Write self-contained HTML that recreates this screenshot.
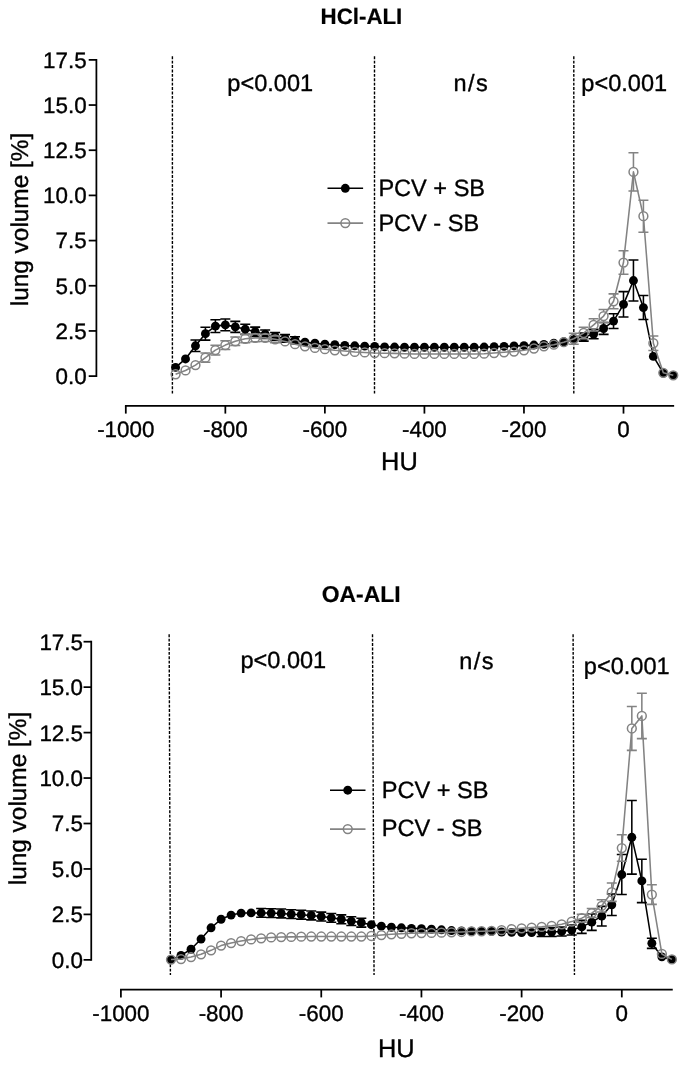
<!DOCTYPE html>
<html><head><meta charset="utf-8"><title>Lung volume</title>
<style>
html,body{margin:0;padding:0;background:#fff;}
body{width:685px;height:1065px;overflow:hidden;font-family:"Liberation Sans",sans-serif;}
svg{display:block;will-change:transform;filter:grayscale(1);}
text{text-rendering:geometricPrecision;stroke:#000;stroke-width:0.35px;stroke-linejoin:round;}
text.b{stroke-width:0.2px;}
</style></head><body>
<svg width="685" height="1065" viewBox="0 0 685 1065">
<rect width="685" height="1065" fill="#fff"/>
<g id="top">
<line x1="172.40" y1="56.30" x2="172.40" y2="394.90" stroke="#000" stroke-width="1.4" stroke-dasharray="2.9 1.5"/>
<line x1="374.50" y1="56.30" x2="374.50" y2="394.90" stroke="#000" stroke-width="1.4" stroke-dasharray="2.9 1.5"/>
<line x1="573.80" y1="56.30" x2="573.80" y2="394.90" stroke="#000" stroke-width="1.4" stroke-dasharray="2.9 1.5"/>
<path d="M96.40 59.00V376.98" stroke="#000" stroke-width="1.75" fill="none"/>
<line x1="88.70" y1="376.10" x2="96.40" y2="376.10" stroke="#000" stroke-width="1.75"/>
<text x="86.60" y="384.00" text-anchor="end" font-family="Liberation Sans, sans-serif" font-size="22.4">0.0</text>
<line x1="88.70" y1="330.93" x2="96.40" y2="330.93" stroke="#000" stroke-width="1.75"/>
<text x="86.60" y="338.82" text-anchor="end" font-family="Liberation Sans, sans-serif" font-size="22.4">2.5</text>
<line x1="88.70" y1="285.75" x2="96.40" y2="285.75" stroke="#000" stroke-width="1.75"/>
<text x="86.60" y="293.65" text-anchor="end" font-family="Liberation Sans, sans-serif" font-size="22.4">5.0</text>
<line x1="88.70" y1="240.58" x2="96.40" y2="240.58" stroke="#000" stroke-width="1.75"/>
<text x="86.60" y="248.48" text-anchor="end" font-family="Liberation Sans, sans-serif" font-size="22.4">7.5</text>
<line x1="88.70" y1="195.40" x2="96.40" y2="195.40" stroke="#000" stroke-width="1.75"/>
<text x="86.60" y="203.30" text-anchor="end" font-family="Liberation Sans, sans-serif" font-size="22.4">10.0</text>
<line x1="88.70" y1="150.23" x2="96.40" y2="150.23" stroke="#000" stroke-width="1.75"/>
<text x="86.60" y="158.13" text-anchor="end" font-family="Liberation Sans, sans-serif" font-size="22.4">12.5</text>
<line x1="88.70" y1="105.05" x2="96.40" y2="105.05" stroke="#000" stroke-width="1.75"/>
<text x="86.60" y="112.95" text-anchor="end" font-family="Liberation Sans, sans-serif" font-size="22.4">15.0</text>
<line x1="88.70" y1="59.88" x2="96.40" y2="59.88" stroke="#000" stroke-width="1.75"/>
<text x="86.60" y="67.78" text-anchor="end" font-family="Liberation Sans, sans-serif" font-size="22.4">17.5</text>
<path d="M124.93 405.90H674.14" stroke="#000" stroke-width="1.75" fill="none"/>
<line x1="125.80" y1="405.90" x2="125.80" y2="413.60" stroke="#000" stroke-width="1.75"/>
<text x="125.80" y="437.10" text-anchor="middle" font-family="Liberation Sans, sans-serif" font-size="22.4">-1000</text>
<line x1="225.34" y1="405.90" x2="225.34" y2="413.60" stroke="#000" stroke-width="1.75"/>
<text x="225.34" y="437.10" text-anchor="middle" font-family="Liberation Sans, sans-serif" font-size="22.4">-800</text>
<line x1="324.88" y1="405.90" x2="324.88" y2="413.60" stroke="#000" stroke-width="1.75"/>
<text x="324.88" y="437.10" text-anchor="middle" font-family="Liberation Sans, sans-serif" font-size="22.4">-600</text>
<line x1="424.42" y1="405.90" x2="424.42" y2="413.60" stroke="#000" stroke-width="1.75"/>
<text x="424.42" y="437.10" text-anchor="middle" font-family="Liberation Sans, sans-serif" font-size="22.4">-400</text>
<line x1="523.96" y1="405.90" x2="523.96" y2="413.60" stroke="#000" stroke-width="1.75"/>
<text x="523.96" y="437.10" text-anchor="middle" font-family="Liberation Sans, sans-serif" font-size="22.4">-200</text>
<line x1="623.50" y1="405.90" x2="623.50" y2="413.60" stroke="#000" stroke-width="1.75"/>
<text x="623.50" y="437.10" text-anchor="middle" font-family="Liberation Sans, sans-serif" font-size="22.4">0</text>
<path d="M195.48 339.99V351.59M190.48 339.99H200.48M190.48 351.59H200.48M205.43 327.31V340.11M200.43 327.31H210.43M200.43 340.11H210.43M215.39 319.75V332.54M210.39 319.75H220.39M210.39 332.54H220.39M225.34 318.98V330.78M220.34 318.98H230.34M220.34 330.78H230.34M235.29 321.37V332.37M230.29 321.37H240.29M230.29 332.37H240.29M245.25 324.21V334.21M240.25 324.21H250.25M240.25 334.21H250.25M255.20 327.13V336.33M250.20 327.13H260.20M250.20 336.33H260.20M265.16 330.05V338.45M260.16 330.05H270.16M260.16 338.45H270.16M275.11 332.42V340.42M270.11 332.42H280.11M270.11 340.42H280.11M285.06 334.60V342.20M280.06 334.60H290.06M280.06 342.20H290.06M295.02 336.70V343.70M290.02 336.70H300.02M290.02 343.70H300.02M583.68 333.14V341.14M578.68 333.14H588.68M578.68 341.14H588.68M593.64 329.37V338.77M588.64 329.37H598.64M588.64 338.77H598.64M603.59 322.59V334.39M598.59 322.59H608.59M598.59 334.39H608.59M613.55 313.70V328.50M608.55 313.70H618.55M608.55 328.50H618.55M623.50 291.64V317.04M618.50 291.64H628.50M618.50 317.04H628.50M633.45 260.05V301.05M628.45 260.05H638.45M628.45 301.05H638.45M643.41 295.58V319.58M638.41 295.58H648.41M638.41 319.58H648.41" stroke="#000" stroke-width="1.55" fill="none"/>
<polyline points="175.57,367.41 185.52,358.94 195.48,345.79 205.43,333.71 215.39,326.14 225.34,324.88 235.29,326.87 245.25,329.21 255.20,331.73 265.16,334.25 275.11,336.42 285.06,338.40 295.02,340.20 304.97,342.18 314.93,343.26 324.88,344.16 334.83,344.71 344.79,345.43 354.74,345.79 364.70,346.15 374.65,346.33 384.60,346.87 394.56,347.05 404.51,347.23 414.47,347.23 424.42,347.23 434.37,347.23 444.33,347.23 454.28,347.23 464.24,347.23 474.19,347.23 484.14,347.05 494.10,346.69 504.05,346.33 514.01,345.97 523.96,345.61 533.91,345.07 543.87,344.35 553.82,343.26 563.78,341.82 573.73,339.66 583.68,337.14 593.64,334.07 603.59,328.49 613.55,321.10 623.50,304.34 633.45,280.55 643.41,307.58 653.36,356.42 663.32,373.00 673.27,375.34" stroke="#000" stroke-width="1.55" fill="none" stroke-linejoin="round"/>
<circle cx="175.57" cy="367.41" r="4.45" fill="#000"/>
<circle cx="185.52" cy="358.94" r="4.45" fill="#000"/>
<circle cx="195.48" cy="345.79" r="4.45" fill="#000"/>
<circle cx="205.43" cy="333.71" r="4.45" fill="#000"/>
<circle cx="215.39" cy="326.14" r="4.45" fill="#000"/>
<circle cx="225.34" cy="324.88" r="4.45" fill="#000"/>
<circle cx="235.29" cy="326.87" r="4.45" fill="#000"/>
<circle cx="245.25" cy="329.21" r="4.45" fill="#000"/>
<circle cx="255.20" cy="331.73" r="4.45" fill="#000"/>
<circle cx="265.16" cy="334.25" r="4.45" fill="#000"/>
<circle cx="275.11" cy="336.42" r="4.45" fill="#000"/>
<circle cx="285.06" cy="338.40" r="4.45" fill="#000"/>
<circle cx="295.02" cy="340.20" r="4.45" fill="#000"/>
<circle cx="304.97" cy="342.18" r="4.45" fill="#000"/>
<circle cx="314.93" cy="343.26" r="4.45" fill="#000"/>
<circle cx="324.88" cy="344.16" r="4.45" fill="#000"/>
<circle cx="334.83" cy="344.71" r="4.45" fill="#000"/>
<circle cx="344.79" cy="345.43" r="4.45" fill="#000"/>
<circle cx="354.74" cy="345.79" r="4.45" fill="#000"/>
<circle cx="364.70" cy="346.15" r="4.45" fill="#000"/>
<circle cx="374.65" cy="346.33" r="4.45" fill="#000"/>
<circle cx="384.60" cy="346.87" r="4.45" fill="#000"/>
<circle cx="394.56" cy="347.05" r="4.45" fill="#000"/>
<circle cx="404.51" cy="347.23" r="4.45" fill="#000"/>
<circle cx="414.47" cy="347.23" r="4.45" fill="#000"/>
<circle cx="424.42" cy="347.23" r="4.45" fill="#000"/>
<circle cx="434.37" cy="347.23" r="4.45" fill="#000"/>
<circle cx="444.33" cy="347.23" r="4.45" fill="#000"/>
<circle cx="454.28" cy="347.23" r="4.45" fill="#000"/>
<circle cx="464.24" cy="347.23" r="4.45" fill="#000"/>
<circle cx="474.19" cy="347.23" r="4.45" fill="#000"/>
<circle cx="484.14" cy="347.05" r="4.45" fill="#000"/>
<circle cx="494.10" cy="346.69" r="4.45" fill="#000"/>
<circle cx="504.05" cy="346.33" r="4.45" fill="#000"/>
<circle cx="514.01" cy="345.97" r="4.45" fill="#000"/>
<circle cx="523.96" cy="345.61" r="4.45" fill="#000"/>
<circle cx="533.91" cy="345.07" r="4.45" fill="#000"/>
<circle cx="543.87" cy="344.35" r="4.45" fill="#000"/>
<circle cx="553.82" cy="343.26" r="4.45" fill="#000"/>
<circle cx="563.78" cy="341.82" r="4.45" fill="#000"/>
<circle cx="573.73" cy="339.66" r="4.45" fill="#000"/>
<circle cx="583.68" cy="337.14" r="4.45" fill="#000"/>
<circle cx="593.64" cy="334.07" r="4.45" fill="#000"/>
<circle cx="603.59" cy="328.49" r="4.45" fill="#000"/>
<circle cx="613.55" cy="321.10" r="4.45" fill="#000"/>
<circle cx="623.50" cy="304.34" r="4.45" fill="#000"/>
<circle cx="633.45" cy="280.55" r="4.45" fill="#000"/>
<circle cx="643.41" cy="307.58" r="4.45" fill="#000"/>
<circle cx="653.36" cy="356.42" r="4.45" fill="#000"/>
<circle cx="663.32" cy="373.00" r="4.45" fill="#000"/>
<circle cx="673.27" cy="375.34" r="4.45" fill="#000"/>
<path d="M200.43 353.08H210.43M200.43 362.28H210.43M215.39 345.21V345.26M215.39 354.96V355.01M210.39 345.21H220.39M210.39 355.01H220.39M220.34 340.67H230.34M220.34 349.47H230.34M230.29 337.08H240.29M230.29 345.48H240.29M240.25 334.76H250.25M240.25 342.76H250.25M250.20 334.06H260.20M250.20 341.66H260.20M260.16 334.26H270.16M260.16 341.46H270.16M270.11 335.90H280.11M270.11 342.70H280.11M573.73 333.26V333.91M573.73 343.61V344.26M568.73 333.26H578.73M568.73 344.26H578.73M583.68 327.29V328.14M583.68 337.84V338.69M578.68 327.29H588.68M578.68 338.69H588.68M593.64 318.78V320.03M593.64 329.73V330.98M588.64 318.78H598.64M588.64 330.98H598.64M603.59 309.55V311.20M603.59 320.90V322.55M598.59 309.55H608.59M598.59 322.55H608.59M613.55 293.88V296.43M613.55 306.13V308.68M608.55 293.88H618.55M608.55 308.68H618.55M623.50 250.83V257.68M623.50 267.38V274.23M618.50 250.83H628.50M618.50 274.23H628.50M633.45 152.69V167.04M633.45 176.74V191.09M628.45 152.69H638.45M628.45 191.09H638.45M643.41 200.22V211.37M643.41 221.07V232.22M638.41 200.22H648.41M638.41 232.22H648.41M653.36 336.06V338.41M653.36 348.11V350.46M648.36 336.06H658.36M648.36 350.46H658.36" stroke="#838383" stroke-width="1.55" fill="none"/>
<polyline points="175.57,374.26 185.52,370.47 195.48,365.07 205.43,357.68 215.39,350.11 225.34,345.07 235.29,341.28 245.25,338.76 255.20,337.86 265.16,337.86 275.11,339.30 285.06,341.46 295.02,344.16 304.97,346.33 314.93,347.95 324.88,349.21 334.83,350.29 344.79,351.01 354.74,351.91 364.70,352.45 374.65,352.99 384.60,353.18 394.56,353.36 404.51,353.72 414.47,353.90 424.42,353.90 434.37,353.90 444.33,353.90 454.28,353.90 464.24,353.90 474.19,353.90 484.14,353.72 494.10,352.99 504.05,352.27 514.01,351.55 523.96,350.29 533.91,348.49 543.87,346.33 553.82,344.71 563.78,342.18 573.73,338.76 583.68,332.99 593.64,324.88 603.59,316.05 613.55,301.28 623.50,262.53 633.45,171.89 643.41,216.22 653.36,343.26 663.32,372.82 673.27,375.34" stroke="#838383" stroke-width="1.55" fill="none" stroke-linejoin="round"/>
<circle cx="175.57" cy="374.26" r="4.4" fill="none" stroke="#838383" stroke-width="1.5"/>
<circle cx="185.52" cy="370.47" r="4.4" fill="none" stroke="#838383" stroke-width="1.5"/>
<circle cx="195.48" cy="365.07" r="4.4" fill="none" stroke="#838383" stroke-width="1.5"/>
<circle cx="205.43" cy="357.68" r="4.4" fill="none" stroke="#838383" stroke-width="1.5"/>
<circle cx="215.39" cy="350.11" r="4.4" fill="none" stroke="#838383" stroke-width="1.5"/>
<circle cx="225.34" cy="345.07" r="4.4" fill="none" stroke="#838383" stroke-width="1.5"/>
<circle cx="235.29" cy="341.28" r="4.4" fill="none" stroke="#838383" stroke-width="1.5"/>
<circle cx="245.25" cy="338.76" r="4.4" fill="none" stroke="#838383" stroke-width="1.5"/>
<circle cx="255.20" cy="337.86" r="4.4" fill="none" stroke="#838383" stroke-width="1.5"/>
<circle cx="265.16" cy="337.86" r="4.4" fill="none" stroke="#838383" stroke-width="1.5"/>
<circle cx="275.11" cy="339.30" r="4.4" fill="none" stroke="#838383" stroke-width="1.5"/>
<circle cx="285.06" cy="341.46" r="4.4" fill="none" stroke="#838383" stroke-width="1.5"/>
<circle cx="295.02" cy="344.16" r="4.4" fill="none" stroke="#838383" stroke-width="1.5"/>
<circle cx="304.97" cy="346.33" r="4.4" fill="none" stroke="#838383" stroke-width="1.5"/>
<circle cx="314.93" cy="347.95" r="4.4" fill="none" stroke="#838383" stroke-width="1.5"/>
<circle cx="324.88" cy="349.21" r="4.4" fill="none" stroke="#838383" stroke-width="1.5"/>
<circle cx="334.83" cy="350.29" r="4.4" fill="none" stroke="#838383" stroke-width="1.5"/>
<circle cx="344.79" cy="351.01" r="4.4" fill="none" stroke="#838383" stroke-width="1.5"/>
<circle cx="354.74" cy="351.91" r="4.4" fill="none" stroke="#838383" stroke-width="1.5"/>
<circle cx="364.70" cy="352.45" r="4.4" fill="none" stroke="#838383" stroke-width="1.5"/>
<circle cx="374.65" cy="352.99" r="4.4" fill="none" stroke="#838383" stroke-width="1.5"/>
<circle cx="384.60" cy="353.18" r="4.4" fill="none" stroke="#838383" stroke-width="1.5"/>
<circle cx="394.56" cy="353.36" r="4.4" fill="none" stroke="#838383" stroke-width="1.5"/>
<circle cx="404.51" cy="353.72" r="4.4" fill="none" stroke="#838383" stroke-width="1.5"/>
<circle cx="414.47" cy="353.90" r="4.4" fill="none" stroke="#838383" stroke-width="1.5"/>
<circle cx="424.42" cy="353.90" r="4.4" fill="none" stroke="#838383" stroke-width="1.5"/>
<circle cx="434.37" cy="353.90" r="4.4" fill="none" stroke="#838383" stroke-width="1.5"/>
<circle cx="444.33" cy="353.90" r="4.4" fill="none" stroke="#838383" stroke-width="1.5"/>
<circle cx="454.28" cy="353.90" r="4.4" fill="none" stroke="#838383" stroke-width="1.5"/>
<circle cx="464.24" cy="353.90" r="4.4" fill="none" stroke="#838383" stroke-width="1.5"/>
<circle cx="474.19" cy="353.90" r="4.4" fill="none" stroke="#838383" stroke-width="1.5"/>
<circle cx="484.14" cy="353.72" r="4.4" fill="none" stroke="#838383" stroke-width="1.5"/>
<circle cx="494.10" cy="352.99" r="4.4" fill="none" stroke="#838383" stroke-width="1.5"/>
<circle cx="504.05" cy="352.27" r="4.4" fill="none" stroke="#838383" stroke-width="1.5"/>
<circle cx="514.01" cy="351.55" r="4.4" fill="none" stroke="#838383" stroke-width="1.5"/>
<circle cx="523.96" cy="350.29" r="4.4" fill="none" stroke="#838383" stroke-width="1.5"/>
<circle cx="533.91" cy="348.49" r="4.4" fill="none" stroke="#838383" stroke-width="1.5"/>
<circle cx="543.87" cy="346.33" r="4.4" fill="none" stroke="#838383" stroke-width="1.5"/>
<circle cx="553.82" cy="344.71" r="4.4" fill="none" stroke="#838383" stroke-width="1.5"/>
<circle cx="563.78" cy="342.18" r="4.4" fill="none" stroke="#838383" stroke-width="1.5"/>
<circle cx="573.73" cy="338.76" r="4.4" fill="none" stroke="#838383" stroke-width="1.5"/>
<circle cx="583.68" cy="332.99" r="4.4" fill="none" stroke="#838383" stroke-width="1.5"/>
<circle cx="593.64" cy="324.88" r="4.4" fill="none" stroke="#838383" stroke-width="1.5"/>
<circle cx="603.59" cy="316.05" r="4.4" fill="none" stroke="#838383" stroke-width="1.5"/>
<circle cx="613.55" cy="301.28" r="4.4" fill="none" stroke="#838383" stroke-width="1.5"/>
<circle cx="623.50" cy="262.53" r="4.4" fill="none" stroke="#838383" stroke-width="1.5"/>
<circle cx="633.45" cy="171.89" r="4.4" fill="none" stroke="#838383" stroke-width="1.5"/>
<circle cx="643.41" cy="216.22" r="4.4" fill="none" stroke="#838383" stroke-width="1.5"/>
<circle cx="653.36" cy="343.26" r="4.4" fill="none" stroke="#838383" stroke-width="1.5"/>
<circle cx="663.32" cy="372.82" r="4.4" fill="none" stroke="#838383" stroke-width="1.5"/>
<circle cx="673.27" cy="375.34" r="4.4" fill="none" stroke="#838383" stroke-width="1.5"/>
<line x1="327.5" y1="188.3" x2="363.1" y2="188.3" stroke="#000" stroke-width="1.55"/>
<circle cx="345.3" cy="188.3" r="4.45" fill="#000"/>
<text x="378.4" y="195.7" font-family="Liberation Sans, sans-serif" font-size="23.55">PCV + SB</text>
<line x1="327.5" y1="223.1" x2="363.1" y2="223.1" stroke="#838383" stroke-width="1.55"/>
<circle cx="345.3" cy="223.1" r="4.4" fill="#fff" stroke="#838383" stroke-width="1.5"/>
<line x1="340.90000000000003" y1="223.1" x2="349.7" y2="223.1" stroke="#838383" stroke-width="1.55"/>
<text x="378.4" y="230.7" font-family="Liberation Sans, sans-serif" font-size="23.55">PCV - SB</text>
<text x="227.3" y="90.9" font-family="Liberation Sans, sans-serif" font-size="23.55">p&lt;0.001</text>
<text x="453.5" y="90.5" font-family="Liberation Sans, sans-serif" font-size="23.55" letter-spacing="1.4">n/s</text>
<text x="581.3" y="91.0" font-family="Liberation Sans, sans-serif" font-size="23.55">p&lt;0.001</text>
<text x="361.45" y="24.3" class="b" text-anchor="middle" font-family="Liberation Sans, sans-serif" font-weight="bold" font-size="22.3">HCl-ALI</text>
<text x="399.45" y="470" text-anchor="middle" font-family="Liberation Sans, sans-serif" font-size="25.4">HU</text>
<text transform="translate(28.2 219.5) rotate(-90)" text-anchor="middle" font-family="Liberation Sans, sans-serif" font-size="24.4">lung volume [%]</text>
</g>
<g id="bottom">
<line x1="169.15" y1="634.30" x2="170.40" y2="975.00" stroke="#000" stroke-width="1.4" stroke-dasharray="2.9 1.5"/>
<line x1="372.50" y1="634.30" x2="374.05" y2="975.00" stroke="#000" stroke-width="1.4" stroke-dasharray="2.9 1.5"/>
<line x1="573.10" y1="634.30" x2="574.45" y2="975.00" stroke="#000" stroke-width="1.4" stroke-dasharray="2.9 1.5"/>
<path d="M91.25 640.83V960.73" stroke="#000" stroke-width="1.75" fill="none"/>
<line x1="83.55" y1="959.85" x2="91.25" y2="959.85" stroke="#000" stroke-width="1.75"/>
<text x="83.00" y="967.75" text-anchor="end" font-family="Liberation Sans, sans-serif" font-size="22.4">0.0</text>
<line x1="83.55" y1="914.40" x2="91.25" y2="914.40" stroke="#000" stroke-width="1.75"/>
<text x="83.00" y="922.30" text-anchor="end" font-family="Liberation Sans, sans-serif" font-size="22.4">2.5</text>
<line x1="83.55" y1="868.95" x2="91.25" y2="868.95" stroke="#000" stroke-width="1.75"/>
<text x="83.00" y="876.85" text-anchor="end" font-family="Liberation Sans, sans-serif" font-size="22.4">5.0</text>
<line x1="83.55" y1="823.50" x2="91.25" y2="823.50" stroke="#000" stroke-width="1.75"/>
<text x="83.00" y="831.40" text-anchor="end" font-family="Liberation Sans, sans-serif" font-size="22.4">7.5</text>
<line x1="83.55" y1="778.05" x2="91.25" y2="778.05" stroke="#000" stroke-width="1.75"/>
<text x="83.00" y="785.95" text-anchor="end" font-family="Liberation Sans, sans-serif" font-size="22.4">10.0</text>
<line x1="83.55" y1="732.60" x2="91.25" y2="732.60" stroke="#000" stroke-width="1.75"/>
<text x="83.00" y="740.50" text-anchor="end" font-family="Liberation Sans, sans-serif" font-size="22.4">12.5</text>
<line x1="83.55" y1="687.15" x2="91.25" y2="687.15" stroke="#000" stroke-width="1.75"/>
<text x="83.00" y="695.05" text-anchor="end" font-family="Liberation Sans, sans-serif" font-size="22.4">15.0</text>
<line x1="83.55" y1="641.70" x2="91.25" y2="641.70" stroke="#000" stroke-width="1.75"/>
<text x="83.00" y="649.60" text-anchor="end" font-family="Liberation Sans, sans-serif" font-size="22.4">17.5</text>
<path d="M120.02 989.70H672.76" stroke="#000" stroke-width="1.75" fill="none"/>
<line x1="120.90" y1="989.70" x2="120.90" y2="997.40" stroke="#000" stroke-width="1.75"/>
<text x="120.90" y="1021.20" text-anchor="middle" font-family="Liberation Sans, sans-serif" font-size="22.4">-1000</text>
<line x1="221.08" y1="989.70" x2="221.08" y2="997.40" stroke="#000" stroke-width="1.75"/>
<text x="221.08" y="1021.20" text-anchor="middle" font-family="Liberation Sans, sans-serif" font-size="22.4">-800</text>
<line x1="321.26" y1="989.70" x2="321.26" y2="997.40" stroke="#000" stroke-width="1.75"/>
<text x="321.26" y="1021.20" text-anchor="middle" font-family="Liberation Sans, sans-serif" font-size="22.4">-600</text>
<line x1="421.44" y1="989.70" x2="421.44" y2="997.40" stroke="#000" stroke-width="1.75"/>
<text x="421.44" y="1021.20" text-anchor="middle" font-family="Liberation Sans, sans-serif" font-size="22.4">-400</text>
<line x1="521.62" y1="989.70" x2="521.62" y2="997.40" stroke="#000" stroke-width="1.75"/>
<text x="521.62" y="1021.20" text-anchor="middle" font-family="Liberation Sans, sans-serif" font-size="22.4">-200</text>
<line x1="621.80" y1="989.70" x2="621.80" y2="997.40" stroke="#000" stroke-width="1.75"/>
<text x="621.80" y="1021.20" text-anchor="middle" font-family="Liberation Sans, sans-serif" font-size="22.4">0</text>
<path d="M261.15 908.50V917.30M256.15 908.50H266.15M256.15 917.30H266.15M271.17 908.68V917.48M266.17 908.68H276.17M266.17 917.48H276.17M281.19 909.05V917.85M276.19 909.05H286.19M276.19 917.85H286.19M291.21 909.78V918.58M286.21 909.78H296.21M286.21 918.58H296.21M301.22 910.32V919.12M296.22 910.32H306.22M296.22 919.12H306.22M311.24 911.05V919.85M306.24 911.05H316.24M306.24 919.85H316.24M321.26 912.14V920.94M316.26 912.14H326.26M316.26 920.94H326.26M331.28 913.41V922.21M326.28 913.41H336.28M326.28 922.21H336.28M341.30 914.86V923.66M336.30 914.86H346.30M336.30 923.66H346.30M351.31 916.68V925.48M346.31 916.68H356.31M346.31 925.48H356.31M361.33 918.31V927.11M356.33 918.31H366.33M356.33 927.11H366.33M541.66 928.53V936.53M536.66 928.53H546.66M536.66 936.53H546.66M551.67 927.48V936.48M546.67 927.48H556.67M546.67 936.48H556.67M561.69 926.94V935.94M556.69 926.94H566.69M556.69 935.94H566.69M571.71 924.98V934.98M566.71 924.98H576.71M566.71 934.98H576.71M581.73 920.39V933.39M576.73 920.39H586.73M576.73 933.39H586.73M591.75 913.97V930.37M586.75 913.97H596.75M586.75 930.37H596.75M601.76 906.37V925.97M596.76 906.37H606.76M596.76 925.97H606.76M611.78 893.93V915.53M606.78 893.93H616.78M606.78 915.53H616.78M621.80 854.56V894.56M616.80 854.56H626.80M616.80 894.56H626.80M631.82 800.52V874.12M626.82 800.52H636.82M626.82 874.12H636.82M641.84 859.22V902.62M636.84 859.22H646.84M636.84 902.62H646.84M651.85 938.15V948.35M646.85 938.15H656.85M646.85 948.35H656.85" stroke="#000" stroke-width="1.55" fill="none"/>
<polyline points="170.99,959.60 181.01,955.42 191.03,949.24 201.04,939.07 211.06,927.80 221.08,919.26 231.10,915.08 241.12,913.08 251.13,912.90 261.15,912.90 271.17,913.08 281.19,913.45 291.21,914.18 301.22,914.72 311.24,915.45 321.26,916.54 331.28,917.81 341.30,919.26 351.31,921.08 361.33,922.71 371.35,924.71 381.37,926.17 391.39,927.26 401.40,927.80 411.42,928.35 421.44,928.71 431.46,929.26 441.48,929.80 451.49,930.53 461.51,930.89 471.53,931.25 481.55,931.44 491.57,931.44 501.58,931.98 511.60,932.35 521.62,932.53 531.64,932.53 541.66,932.53 551.67,931.98 561.69,931.44 571.71,929.98 581.73,926.89 591.75,922.17 601.76,916.17 611.78,904.73 621.80,874.56 631.82,837.32 641.84,880.92 651.85,943.25 661.87,956.87 671.89,959.42" stroke="#000" stroke-width="1.55" fill="none" stroke-linejoin="round"/>
<circle cx="170.99" cy="959.60" r="4.45" fill="#000"/>
<circle cx="181.01" cy="955.42" r="4.45" fill="#000"/>
<circle cx="191.03" cy="949.24" r="4.45" fill="#000"/>
<circle cx="201.04" cy="939.07" r="4.45" fill="#000"/>
<circle cx="211.06" cy="927.80" r="4.45" fill="#000"/>
<circle cx="221.08" cy="919.26" r="4.45" fill="#000"/>
<circle cx="231.10" cy="915.08" r="4.45" fill="#000"/>
<circle cx="241.12" cy="913.08" r="4.45" fill="#000"/>
<circle cx="251.13" cy="912.90" r="4.45" fill="#000"/>
<circle cx="261.15" cy="912.90" r="4.45" fill="#000"/>
<circle cx="271.17" cy="913.08" r="4.45" fill="#000"/>
<circle cx="281.19" cy="913.45" r="4.45" fill="#000"/>
<circle cx="291.21" cy="914.18" r="4.45" fill="#000"/>
<circle cx="301.22" cy="914.72" r="4.45" fill="#000"/>
<circle cx="311.24" cy="915.45" r="4.45" fill="#000"/>
<circle cx="321.26" cy="916.54" r="4.45" fill="#000"/>
<circle cx="331.28" cy="917.81" r="4.45" fill="#000"/>
<circle cx="341.30" cy="919.26" r="4.45" fill="#000"/>
<circle cx="351.31" cy="921.08" r="4.45" fill="#000"/>
<circle cx="361.33" cy="922.71" r="4.45" fill="#000"/>
<circle cx="371.35" cy="924.71" r="4.45" fill="#000"/>
<circle cx="381.37" cy="926.17" r="4.45" fill="#000"/>
<circle cx="391.39" cy="927.26" r="4.45" fill="#000"/>
<circle cx="401.40" cy="927.80" r="4.45" fill="#000"/>
<circle cx="411.42" cy="928.35" r="4.45" fill="#000"/>
<circle cx="421.44" cy="928.71" r="4.45" fill="#000"/>
<circle cx="431.46" cy="929.26" r="4.45" fill="#000"/>
<circle cx="441.48" cy="929.80" r="4.45" fill="#000"/>
<circle cx="451.49" cy="930.53" r="4.45" fill="#000"/>
<circle cx="461.51" cy="930.89" r="4.45" fill="#000"/>
<circle cx="471.53" cy="931.25" r="4.45" fill="#000"/>
<circle cx="481.55" cy="931.44" r="4.45" fill="#000"/>
<circle cx="491.57" cy="931.44" r="4.45" fill="#000"/>
<circle cx="501.58" cy="931.98" r="4.45" fill="#000"/>
<circle cx="511.60" cy="932.35" r="4.45" fill="#000"/>
<circle cx="521.62" cy="932.53" r="4.45" fill="#000"/>
<circle cx="531.64" cy="932.53" r="4.45" fill="#000"/>
<circle cx="541.66" cy="932.53" r="4.45" fill="#000"/>
<circle cx="551.67" cy="931.98" r="4.45" fill="#000"/>
<circle cx="561.69" cy="931.44" r="4.45" fill="#000"/>
<circle cx="571.71" cy="929.98" r="4.45" fill="#000"/>
<circle cx="581.73" cy="926.89" r="4.45" fill="#000"/>
<circle cx="591.75" cy="922.17" r="4.45" fill="#000"/>
<circle cx="601.76" cy="916.17" r="4.45" fill="#000"/>
<circle cx="611.78" cy="904.73" r="4.45" fill="#000"/>
<circle cx="621.80" cy="874.56" r="4.45" fill="#000"/>
<circle cx="631.82" cy="837.32" r="4.45" fill="#000"/>
<circle cx="641.84" cy="880.92" r="4.45" fill="#000"/>
<circle cx="651.85" cy="943.25" r="4.45" fill="#000"/>
<circle cx="661.87" cy="956.87" r="4.45" fill="#000"/>
<circle cx="671.89" cy="959.42" r="4.45" fill="#000"/>
<path d="M576.73 914.17H586.73M576.73 922.17H586.73M586.75 908.58H596.75M586.75 917.58H596.75M601.76 899.72V900.97M601.76 910.67V911.92M596.76 899.72H606.76M596.76 911.92H606.76M611.78 882.99V887.34M611.78 897.04V901.39M606.78 882.99H616.78M606.78 901.39H616.78M621.80 834.74V843.19M621.80 852.89V861.34M616.80 834.74H626.80M616.80 861.34H626.80M631.82 706.58V723.63M631.82 733.33V750.38M626.82 706.58H636.82M626.82 750.38H636.82M641.84 693.24V711.09M641.84 720.79V738.64M636.84 693.24H646.84M636.84 738.64H646.84M651.85 884.75V889.70M651.85 899.40V904.35M646.85 884.75H656.85M646.85 904.35H656.85" stroke="#838383" stroke-width="1.55" fill="none"/>
<polyline points="170.99,959.60 181.01,959.05 191.03,957.06 201.04,954.33 211.06,950.33 221.08,945.61 231.10,943.07 241.12,941.07 251.13,939.43 261.15,938.34 271.17,937.43 281.19,937.07 291.21,936.89 301.22,936.71 311.24,936.52 321.26,936.52 331.28,936.52 341.30,936.52 351.31,936.52 361.33,936.52 371.35,935.98 381.37,935.07 391.39,934.34 401.40,933.80 411.42,933.25 421.44,933.07 431.46,932.89 441.48,932.71 451.49,932.35 461.51,931.98 471.53,931.44 481.55,931.25 491.57,930.89 501.58,930.16 511.60,929.26 521.62,928.35 531.64,927.62 541.66,926.89 551.67,925.80 561.69,924.35 571.71,921.62 581.73,918.17 591.75,913.08 601.76,905.82 611.78,892.19 621.80,848.04 631.82,728.48 641.84,715.94 651.85,894.55 661.87,953.97 671.89,959.42" stroke="#838383" stroke-width="1.55" fill="none" stroke-linejoin="round"/>
<circle cx="170.99" cy="959.60" r="4.4" fill="none" stroke="#838383" stroke-width="1.5"/>
<circle cx="181.01" cy="959.05" r="4.4" fill="none" stroke="#838383" stroke-width="1.5"/>
<circle cx="191.03" cy="957.06" r="4.4" fill="none" stroke="#838383" stroke-width="1.5"/>
<circle cx="201.04" cy="954.33" r="4.4" fill="none" stroke="#838383" stroke-width="1.5"/>
<circle cx="211.06" cy="950.33" r="4.4" fill="none" stroke="#838383" stroke-width="1.5"/>
<circle cx="221.08" cy="945.61" r="4.4" fill="none" stroke="#838383" stroke-width="1.5"/>
<circle cx="231.10" cy="943.07" r="4.4" fill="none" stroke="#838383" stroke-width="1.5"/>
<circle cx="241.12" cy="941.07" r="4.4" fill="none" stroke="#838383" stroke-width="1.5"/>
<circle cx="251.13" cy="939.43" r="4.4" fill="none" stroke="#838383" stroke-width="1.5"/>
<circle cx="261.15" cy="938.34" r="4.4" fill="none" stroke="#838383" stroke-width="1.5"/>
<circle cx="271.17" cy="937.43" r="4.4" fill="none" stroke="#838383" stroke-width="1.5"/>
<circle cx="281.19" cy="937.07" r="4.4" fill="none" stroke="#838383" stroke-width="1.5"/>
<circle cx="291.21" cy="936.89" r="4.4" fill="none" stroke="#838383" stroke-width="1.5"/>
<circle cx="301.22" cy="936.71" r="4.4" fill="none" stroke="#838383" stroke-width="1.5"/>
<circle cx="311.24" cy="936.52" r="4.4" fill="none" stroke="#838383" stroke-width="1.5"/>
<circle cx="321.26" cy="936.52" r="4.4" fill="none" stroke="#838383" stroke-width="1.5"/>
<circle cx="331.28" cy="936.52" r="4.4" fill="none" stroke="#838383" stroke-width="1.5"/>
<circle cx="341.30" cy="936.52" r="4.4" fill="none" stroke="#838383" stroke-width="1.5"/>
<circle cx="351.31" cy="936.52" r="4.4" fill="none" stroke="#838383" stroke-width="1.5"/>
<circle cx="361.33" cy="936.52" r="4.4" fill="none" stroke="#838383" stroke-width="1.5"/>
<circle cx="371.35" cy="935.98" r="4.4" fill="none" stroke="#838383" stroke-width="1.5"/>
<circle cx="381.37" cy="935.07" r="4.4" fill="none" stroke="#838383" stroke-width="1.5"/>
<circle cx="391.39" cy="934.34" r="4.4" fill="none" stroke="#838383" stroke-width="1.5"/>
<circle cx="401.40" cy="933.80" r="4.4" fill="none" stroke="#838383" stroke-width="1.5"/>
<circle cx="411.42" cy="933.25" r="4.4" fill="none" stroke="#838383" stroke-width="1.5"/>
<circle cx="421.44" cy="933.07" r="4.4" fill="none" stroke="#838383" stroke-width="1.5"/>
<circle cx="431.46" cy="932.89" r="4.4" fill="none" stroke="#838383" stroke-width="1.5"/>
<circle cx="441.48" cy="932.71" r="4.4" fill="none" stroke="#838383" stroke-width="1.5"/>
<circle cx="451.49" cy="932.35" r="4.4" fill="none" stroke="#838383" stroke-width="1.5"/>
<circle cx="461.51" cy="931.98" r="4.4" fill="none" stroke="#838383" stroke-width="1.5"/>
<circle cx="471.53" cy="931.44" r="4.4" fill="none" stroke="#838383" stroke-width="1.5"/>
<circle cx="481.55" cy="931.25" r="4.4" fill="none" stroke="#838383" stroke-width="1.5"/>
<circle cx="491.57" cy="930.89" r="4.4" fill="none" stroke="#838383" stroke-width="1.5"/>
<circle cx="501.58" cy="930.16" r="4.4" fill="none" stroke="#838383" stroke-width="1.5"/>
<circle cx="511.60" cy="929.26" r="4.4" fill="none" stroke="#838383" stroke-width="1.5"/>
<circle cx="521.62" cy="928.35" r="4.4" fill="none" stroke="#838383" stroke-width="1.5"/>
<circle cx="531.64" cy="927.62" r="4.4" fill="none" stroke="#838383" stroke-width="1.5"/>
<circle cx="541.66" cy="926.89" r="4.4" fill="none" stroke="#838383" stroke-width="1.5"/>
<circle cx="551.67" cy="925.80" r="4.4" fill="none" stroke="#838383" stroke-width="1.5"/>
<circle cx="561.69" cy="924.35" r="4.4" fill="none" stroke="#838383" stroke-width="1.5"/>
<circle cx="571.71" cy="921.62" r="4.4" fill="none" stroke="#838383" stroke-width="1.5"/>
<circle cx="581.73" cy="918.17" r="4.4" fill="none" stroke="#838383" stroke-width="1.5"/>
<circle cx="591.75" cy="913.08" r="4.4" fill="none" stroke="#838383" stroke-width="1.5"/>
<circle cx="601.76" cy="905.82" r="4.4" fill="none" stroke="#838383" stroke-width="1.5"/>
<circle cx="611.78" cy="892.19" r="4.4" fill="none" stroke="#838383" stroke-width="1.5"/>
<circle cx="621.80" cy="848.04" r="4.4" fill="none" stroke="#838383" stroke-width="1.5"/>
<circle cx="631.82" cy="728.48" r="4.4" fill="none" stroke="#838383" stroke-width="1.5"/>
<circle cx="641.84" cy="715.94" r="4.4" fill="none" stroke="#838383" stroke-width="1.5"/>
<circle cx="651.85" cy="894.55" r="4.4" fill="none" stroke="#838383" stroke-width="1.5"/>
<circle cx="661.87" cy="953.97" r="4.4" fill="none" stroke="#838383" stroke-width="1.5"/>
<circle cx="671.89" cy="959.42" r="4.4" fill="none" stroke="#838383" stroke-width="1.5"/>
<line x1="330" y1="790.2" x2="365.5" y2="790.2" stroke="#000" stroke-width="1.55"/>
<circle cx="347.75" cy="790.2" r="4.45" fill="#000"/>
<text x="381.7" y="797.6" font-family="Liberation Sans, sans-serif" font-size="23.55">PCV + SB</text>
<line x1="330" y1="829.1" x2="365.5" y2="829.1" stroke="#838383" stroke-width="1.55"/>
<circle cx="347.75" cy="829.1" r="4.4" fill="#fff" stroke="#838383" stroke-width="1.5"/>
<line x1="343.35" y1="829.1" x2="352.15" y2="829.1" stroke="#838383" stroke-width="1.55"/>
<text x="381.7" y="836.2" font-family="Liberation Sans, sans-serif" font-size="23.55">PCV - SB</text>
<text x="240.4" y="667.7" font-family="Liberation Sans, sans-serif" font-size="23.55">p&lt;0.001</text>
<text x="459.3" y="669.2" font-family="Liberation Sans, sans-serif" font-size="23.55" letter-spacing="1.4">n/s</text>
<text x="583.8" y="673.5" font-family="Liberation Sans, sans-serif" font-size="23.55">p&lt;0.001</text>
<text x="361.2" y="601.9" class="b" text-anchor="middle" font-family="Liberation Sans, sans-serif" font-weight="bold" font-size="22.9">OA-ALI</text>
<text x="396.3" y="1057.2" text-anchor="middle" font-family="Liberation Sans, sans-serif" font-size="25.4">HU</text>
<text transform="translate(25.9 798.5) rotate(-90)" text-anchor="middle" font-family="Liberation Sans, sans-serif" font-size="24.4">lung volume [%]</text>
</g>
</svg>
</body></html>
